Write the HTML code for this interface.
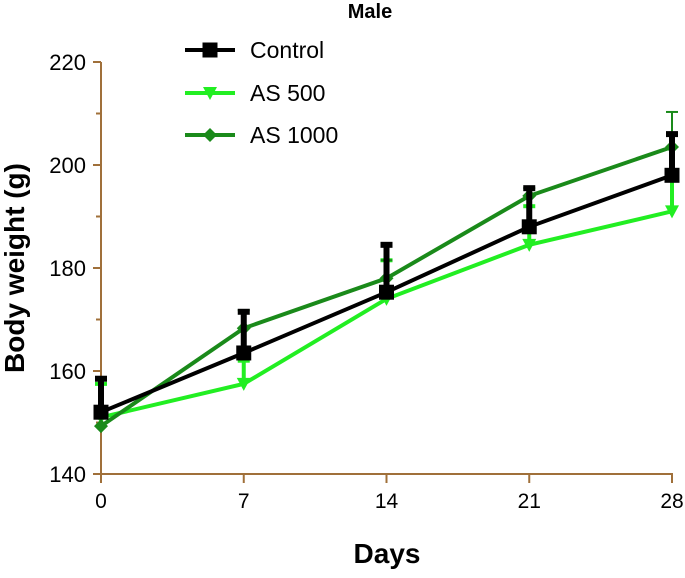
<!DOCTYPE html>
<html><head><meta charset="utf-8"><style>
body{margin:0;background:#fff}
svg text{font-family:"Liberation Sans",Arial,sans-serif}
</style></head><body>
<svg id="c" width="685" height="573"></svg>
<script>
const days=[0,7,14,21,28];
const control=[152,163.5,175.3,188,198];
const controlErr=[6.5,8,9.2,7.5,8];
const as500=[151,157.5,174,184.5,191];
const as500Err=[6.5,4.5,7.5,7.5,6];
const as1000=[149.3,168.3,178,194,203.5];
const as1000Err=[0,3.5,3.5,1.5,6.8];
const yTicks=[140,160,180,200,220];
const NS="http://www.w3.org/2000/svg";
const svg=document.getElementById('c');
const X=d=>101+d*(672-101)/28;
const Y=v=>474-(v-140)*(474-62)/80;
function el(t,a,p){const e=document.createElementNS(NS,t);for(const k in a)e.setAttribute(k,a[k]);(p||svg).appendChild(e);return e;}
const ax='#a0703a';
let g=el('g',{});


el('line',{x1:101,y1:62,x2:101,y2:475,stroke:ax,'stroke-width':2},g);
for(let v=140;v<=220;v+=10){const major=v%20===0;el('line',{x1:major?93:96,x2:101,y1:Y(v),y2:Y(v),stroke:ax,'stroke-width':2},g);}
yTicks.forEach(v=>{const t=el('text',{x:86,y:Y(v)+8,'text-anchor':'end','font-size':22,fill:'#000'},g);t.textContent=v;});
g=el('g',{});


el('line',{x1:100,y1:474,x2:673,y2:474,stroke:ax,'stroke-width':2},g);
days.forEach(d=>{el('line',{x1:X(d),x2:X(d),y1:474,y2:483,stroke:ax,'stroke-width':2},g);const t=el('text',{x:X(d),y:508,'text-anchor':'middle','font-size':21,fill:'#000'},g);t.textContent=d;});
function series(name,vals,errs,color,shape,w){
 const s=el('g',{});
 
 
 vals.forEach((v,i)=>{if(errs[i]>0){const x=X(days[i]),y1=Y(v),y2=Y(v+errs[i]);el('line',{x1:x,x2:x,y1:y1,y2:y2,stroke:color,'stroke-width':w},s);el('line',{x1:x-6,x2:x+6,y1:y2,y2:y2,stroke:color,'stroke-width':w},s);}});
 el('polyline',{points:vals.map((v,i)=>X(days[i])+','+Y(v)).join(' '),fill:'none',stroke:color,'stroke-width':4},s);
 vals.forEach((v,i)=>marker(X(days[i]),Y(v),color,shape,s));
}
function marker(x,y,color,shape,p){
 if(shape==='sq')el('rect',{x:x-7.5,y:y-7.5,width:15,height:15,fill:color},p);
 else if(shape==='tri')el('polygon',{points:`${x-7},${y-6} ${x+7},${y-6} ${x},${y+7}`,fill:color},p);
 else el('polygon',{points:`${x},${y-7} ${x+7},${y} ${x},${y+7} ${x-7},${y}`,fill:color},p);
}
series('series-as500',as500,as500Err,'#22ee22','tri',4);
series('series-as1000',as1000,as1000Err,'#1a8a1a','dia',2);
series('series-control',control,controlErr,'#000','sq',6);
const leg=[['Control','#000','sq',50],['AS 500','#22ee22','tri',93],['AS 1000','#1a8a1a','dia',135]];
leg.forEach(l=>{const e=el('g',{});
 
 
 el('line',{x1:185,x2:235,y1:l[3],y2:l[3],stroke:l[1],'stroke-width':4},e);marker(210,l[3],l[1],l[2],e);
 const t=el('text',{x:250,y:l[3]+8,'font-size':23,fill:'#000'},e);t.textContent=l[0];});
let t=el('text',{x:370,y:18,'text-anchor':'middle','font-size':20,'font-weight':'bold'});t.textContent='Male';


t=el('text',{x:387,y:563,'text-anchor':'middle','font-size':28,'font-weight':'bold'});t.textContent='Days';


t=el('text',{x:0,y:0,'text-anchor':'middle','font-size':28,'font-weight':'bold',transform:'translate(24,268) rotate(-90)'});t.textContent='Body weight (g)';


</script>
</body></html>
